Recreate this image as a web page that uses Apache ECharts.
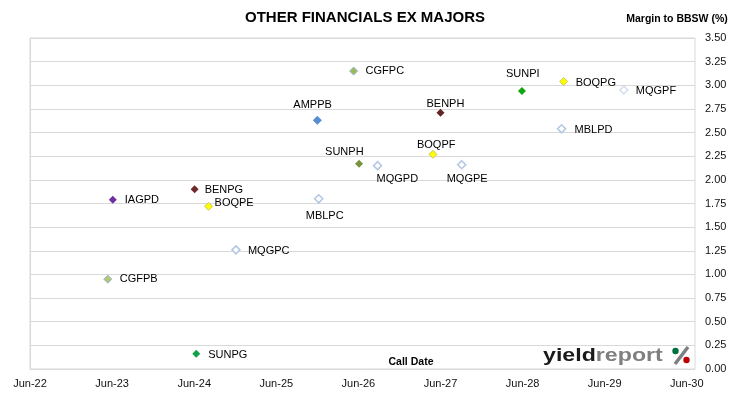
<!DOCTYPE html>
<html>
<head>
<meta charset="utf-8">
<script src="https://cdn.jsdelivr.net/npm/echarts@6/dist/echarts.min.js"></script>
<style>
  html, body { margin: 0; padding: 0; background: #fff; }
  #chart { width: 730px; height: 399px; }
</style>
</head>
<body>
<div id="chart"></div>
<script>
// securities, call dates and margins
const names = ['IAGPD', 'BENPG', 'BOQPE', 'MBLPC', 'MQGPC', 'CGFPB', 'CGFPC', 'SUNPI', 'BOQPG',
  'MQGPF', 'AMPPB', 'BENPH', 'MBLPD', 'BOQPF', 'SUNPH', 'MQGPD', 'MQGPE', 'SUNPG']
const callDates = ['2023-06-04', '2024-06-03', '2024-08-04', '2025-12-07', '2024-12-04', '2023-05-12',
  '2026-05-10', '2028-05-28', '2028-12-01', '2029-08-25', '2025-12-01', '2027-06-01',
  '2028-11-22', '2027-04-28', '2026-06-04', '2026-08-25', '2027-09-04', '2024-06-10']
const margins = [1.79, 1.90, 1.72, 1.80, 1.26, 0.95, 3.15, 2.94, 3.04,
  2.95, 2.63, 2.71, 2.54, 2.27, 2.17, 2.15, 2.16, 0.16]
const xTickLabels = ['Jun-22', 'Jun-23', 'Jun-24', 'Jun-25', 'Jun-26', 'Jun-27', 'Jun-28', 'Jun-29', 'Jun-30']

// marker looks
const hollow = { color: '#fff', borderColor: '#B4C8E4', borderWidth: 1.6 }
const yellow = { color: '#FFFF00', borderColor: '#C8C860', borderWidth: 1 }
const markerStyles = {
  IAGPD: { color: '#7030A0' },
  BENPG: { color: '#6E2A2A' },
  BOQPE: yellow,
  MBLPC: hollow,
  MQGPC: hollow,
  CGFPB: { color: '#B8C96A', borderColor: '#8DB4E2', borderWidth: 1 },
  CGFPC: { color: '#9BBB59', borderColor: '#95B3D7', borderWidth: 1 },
  SUNPI: { color: '#11A711' },
  BOQPG: yellow,
  MQGPF: { color: '#fff', borderColor: '#C9D8EE', borderWidth: 1.2 },
  AMPPB: { color: '#558ED5' },
  BENPH: { color: '#632523' },
  MBLPD: hollow,
  BOQPF: yellow,
  SUNPH: { color: '#77933C' },
  MQGPD: hollow,
  MQGPE: hollow,
  SUNPG: { color: '#12A14B' }
}
// label placement relative to the marker (left edge, vertical middle)
const labelOffsets = {
  IAGPD: [12, 0], BENPG: [10, 1], BOQPE: [6, -3], MBLPC: [-13, 17], MQGPC: [12, 1],
  CGFPB: [12, 0], CGFPC: [12, 0], SUNPI: [-16, -17], BOQPG: [12, 1], MQGPF: [12, 1],
  AMPPB: [-24, -15], BENPH: [-14, -9], MBLPD: [13, 1], BOQPF: [-16, -9], SUNPH: [-34, -12],
  MQGPD: [-1, 13], MQGPE: [-15, 14], SUNPG: [12, 1]
}

// months since Jun-22
function toMonths(s) {
  const p = s.split('-').map(Number)
  return (p[0] - 2022) * 12 + (p[1] - 6) + (p[2] - 1) / 30
}

const font = 'Liberation Sans'
const chart = echarts.init(document.getElementById('chart'))

const points = names.map((n, i) => ({
  name: n,
  value: [toMonths(callDates[i]), margins[i]],
  symbolSize: n === 'AMPPB' ? 9 : 8,
  itemStyle: Object.assign({ opacity: 1 }, markerStyles[n]),
  label: {
    show: true,
    formatter: n,
    position: 'inside',
    align: 'left',
    verticalAlign: 'middle',
    offset: labelOffsets[n],
    color: '#000',
    textBorderWidth: 0,
    fontSize: 11,
    fontFamily: font
  }
}))

const option = {
  animation: false,
  backgroundColor: '#fff',
  textStyle: { fontFamily: font },
  grid: {
    left: 30, right: 35, top: 38, bottom: 30,
    show: true, borderColor: '#D9D9D9', borderWidth: 1
  },
  xAxis: {
    type: 'value',
    min: 0,
    max: 97.2,
    interval: 12,
    axisLine: { show: false },
    axisTick: { show: false },
    splitLine: { show: false },
    axisLabel: {
      margin: 9,
      color: '#111',
      fontSize: 11,
      fontFamily: font,
      showMaxLabel: false,
      formatter: v => (v % 12 === 0 ? xTickLabels[v / 12] : '')
    }
  },
  yAxis: {
    type: 'value',
    position: 'right',
    min: 0,
    max: 3.5,
    interval: 0.25,
    axisLine: { show: true, lineStyle: { color: '#D9D9D9' } },
    axisTick: { show: true, length: 4, lineStyle: { color: '#D9D9D9' } },
    splitLine: { lineStyle: { color: '#D9D9D9' } },
    axisLabel: {
      margin: 10,
      color: '#111',
      fontSize: 11,
      fontFamily: font,
      formatter: v => v.toFixed(2)
    }
  },
  series: [{
    type: 'scatter',
    symbol: 'diamond',
    data: points
  }],
  graphic: [
    {
      type: 'text', left: 'center', top: 10, z: 10,
      style: { text: 'OTHER FINANCIALS EX MAJORS', font: 'bold 15px ' + font, fill: '#000' }
    },
    {
      type: 'text', x: 677, y: 19, z: 10,
      style: { text: 'Margin to BBSW (%)', font: 'bold 10.5px ' + font, fill: '#000', align: 'center', verticalAlign: 'middle' }
    },
    {
      type: 'text', x: 411, y: 362, z: 10,
      style: { text: 'Call Date', font: 'bold 10.5px ' + font, fill: '#000', align: 'center', verticalAlign: 'middle' }
    },
    // yieldreport logo
    {
      type: 'text', x: 543, y: 356, scaleX: 1.22, z: 10,
      style: {
        text: '{a|yield}{b|report}',
        verticalAlign: 'middle',
        rich: {
          a: { fontWeight: 'bold', fontSize: 19, fontFamily: font, fill: '#1A1A1A' },
          b: { fontWeight: 'bold', fontSize: 19, fontFamily: font, fill: '#7F7F7F' }
        }
      }
    },
    {
      type: 'line', z: 10,
      shape: { x1: 688, y1: 347, x2: 675, y2: 364 },
      style: { stroke: '#7F7F7F', lineWidth: 3.5 }
    },
    { type: 'circle', z: 11, shape: { cx: 675.5, cy: 351, r: 3.2 }, style: { fill: '#00703C' } },
    { type: 'circle', z: 11, shape: { cx: 686.5, cy: 360, r: 3.2 }, style: { fill: '#C00000' } }
  ]
}

chart.setOption(option)
</script>
</body>
</html>
